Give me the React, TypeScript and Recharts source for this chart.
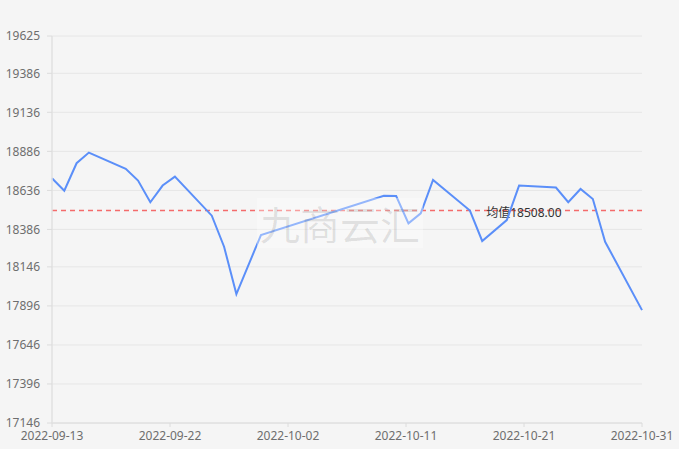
import React from 'react';
import { LineChart, Line, XAxis, YAxis, CartesianGrid, ReferenceLine } from 'recharts';

const dates = [
  '2022-09-13', '2022-09-14', '2022-09-15', '2022-09-16', '2022-09-19', '2022-09-20',
  '2022-09-21', '2022-09-22', '2022-09-23', '2022-09-26', '2022-09-27', '2022-09-28',
  '2022-09-30', '2022-10-10', '2022-10-11', '2022-10-12', '2022-10-13', '2022-10-14',
  '2022-10-17', '2022-10-18', '2022-10-20', '2022-10-21', '2022-10-24', '2022-10-25',
  '2022-10-26', '2022-10-27', '2022-10-28', '2022-10-31',
];
const prices = [
  18714, 18634, 18810, 18878, 18774, 18699,
  18560, 18667, 18724, 18474, 18275, 17972,
  18350, 18602, 18600, 18425, 18489, 18703,
  18507, 18312, 18446, 18667, 18654, 18560,
  18645, 18581, 18307, 17869,
];
const yTicks = [17146, 17396, 17646, 17896, 18146, 18386, 18636, 18886, 19136, 19386, 19625];
const xTickLabels = ['2022-09-13', '2022-09-22', '2022-10-02', '2022-10-11', '2022-10-21', '2022-10-31'];
const AVERAGE = 18508;
const AVERAGE_LABEL = '均值18508.00';
const WATERMARK = '九商云汇';

const FONT = '"Noto Sans", "Noto Sans CJK SC", sans-serif';

const toTs = (d: string) => Date.parse(d + 'T00:00:00Z');
const data = dates.map((d, i) => ({ t: toTs(d), price: prices[i] }));
const xStart = toTs(xTickLabels[0]);
const xEnd = toTs(xTickLabels[xTickLabels.length - 1]);
const xTicks = xTickLabels.map((_, i) => xStart + ((xEnd - xStart) * i) / (xTickLabels.length - 1));

const AvgLabel = (props: any) => {
  const vb = props.viewBox || {};
  return (
    <text
      x={vb.x + vb.width * 0.736}
      y={vb.y + 2}
      fill="#333"
      fontSize={12}
      fontFamily={FONT}
      dominantBaseline="central"
    >
      {AVERAGE_LABEL}
    </text>
  );
};

export default function App() {
  return (
    <div
      style={{
        position: 'absolute',
        left: 0,
        top: 0,
        width: 679,
        height: 449,
        background: '#f5f5f5',
        fontFamily: FONT,
        overflow: 'hidden',
      }}
    >
      <LineChart width={679} height={449} data={data} margin={{ top: 36, right: 37, bottom: 0, left: 0 }}>
        <CartesianGrid vertical={false} stroke="#e6e6e6" strokeWidth={1} />
        <XAxis
          dataKey="t"
          type="number"
          scale="linear"
          domain={[xStart, xEnd]}
          ticks={xTicks}
          interval={0}
          tickFormatter={(_v: number, i: number) => xTickLabels[i]}
          height={26}
          tickSize={4}
          tickMargin={4}
          axisLine={{ stroke: '#dcdcdc' }}
          tickLine={{ stroke: '#dcdcdc' }}
          tick={{ fill: '#6e6e6e', fontSize: 12, fontFamily: FONT }}
        />
        <YAxis
          type="number"
          domain={[17146, 19625]}
          ticks={yTicks}
          interval={0}
          width={52}
          tickSize={5}
          tickMargin={7}
          axisLine={{ stroke: '#e0e0e0', strokeWidth: 1.5 }}
          tickLine={{ stroke: '#dcdcdc' }}
          tick={{ fill: '#6e6e6e', fontSize: 12, fontFamily: FONT }}
        />
        <ReferenceLine
          y={AVERAGE}
          stroke="#f46b6b"
          strokeWidth={1.5}
          strokeDasharray="5 4"
          label={<AvgLabel />}
        />
        <Line
          type="linear"
          dataKey="price"
          stroke="#5B8FF9"
          strokeWidth={2}
          dot={false}
          activeDot={false}
          isAnimationActive={false}
        />
      </LineChart>
      <div
        style={{
          position: 'absolute',
          left: 257,
          top: 198,
          width: 166,
          height: 50,
          background: 'rgba(255,255,255,0.35)',
          color: 'rgba(0,0,0,0.1)',
          fontSize: 40,
          lineHeight: '50px',
          textAlign: 'center',
          fontFamily: '"Noto Sans CJK SC", sans-serif',
          whiteSpace: 'nowrap',
          pointerEvents: 'none',
        }}
      >
        {WATERMARK}
      </div>
    </div>
  );
}
